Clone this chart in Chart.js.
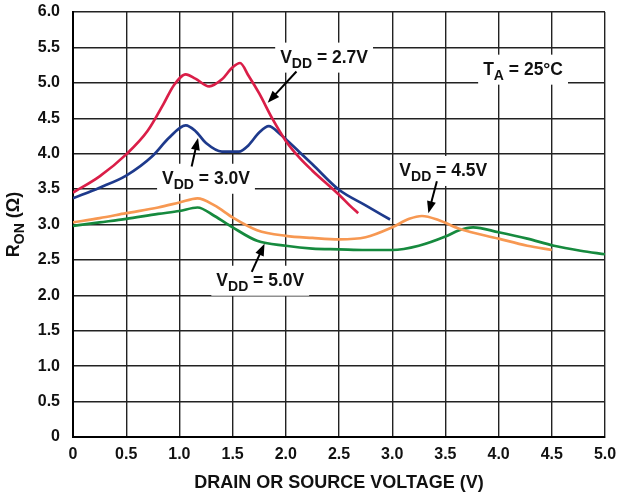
<!DOCTYPE html>
<html lang="en">
<head>
<meta charset="UTF-8">
<title>RON vs Drain or Source Voltage</title>
<script src="https://cdn.jsdelivr.net/npm/chart.js"></script>
<style>
    html, body { margin: 0; padding: 0; background: #fff; }
    .chart-container { position: relative; width: 621px; height: 498px; }
</style>
</head>
<body>
<div class="chart-container"><canvas id="ronChart"></canvas></div>
<script>
    // Values (x = volts, y = ohms)
    const vdd27X = [0, 0.25, 0.5, 0.7, 0.85, 0.95, 1.06, 1.15, 1.28, 1.4, 1.5, 1.57, 1.65, 1.75, 1.875, 2.0, 2.13, 2.25, 2.5, 2.6, 2.68];
    const vdd27Y = [3.45, 3.68, 3.99, 4.32, 4.70, 4.97, 5.12, 5.06, 4.95, 5.05, 5.22, 5.28, 5.10, 4.85, 4.49, 4.18, 3.94, 3.76, 3.42, 3.27, 3.16];

    const vdd30X = [0, 0.25, 0.5, 0.75, 0.9, 1.06, 1.15, 1.25, 1.4, 1.56, 1.65, 1.75, 1.84, 1.95, 2.13, 2.25, 2.5, 2.75, 2.98];
    const vdd30Y = [3.37, 3.52, 3.69, 3.97, 4.22, 4.40, 4.32, 4.15, 4.03, 4.03, 4.12, 4.30, 4.39, 4.27, 4.02, 3.85, 3.49, 3.27, 3.07];

    const vdd45X = [0, 0.25, 0.5, 0.8, 1.0, 1.17, 1.33, 1.5, 1.73, 2.0, 2.25, 2.5, 2.75, 3.0, 3.16, 3.28, 3.44, 3.63, 4.0, 4.27, 4.5];
    const vdd45Y = [3.03, 3.09, 3.16, 3.24, 3.31, 3.37, 3.27, 3.10, 2.92, 2.84, 2.81, 2.79, 2.82, 2.96, 3.08, 3.12, 3.06, 2.94, 2.80, 2.70, 2.64];

    const vdd50X = [0, 0.25, 0.5, 0.8, 1.0, 1.17, 1.33, 1.5, 1.73, 2.0, 2.25, 2.5, 2.75, 3.0, 3.25, 3.5, 3.63, 3.76, 4.0, 4.27, 4.52, 4.77, 5.0];
    const vdd50Y = [2.98, 3.03, 3.08, 3.15, 3.19, 3.24, 3.12, 2.96, 2.77, 2.70, 2.66, 2.65, 2.64, 2.64, 2.70, 2.83, 2.92, 2.96, 2.89, 2.80, 2.70, 2.63, 2.58];

    const xTickLabels = ['0', '0.5', '1.0', '1.5', '2.0', '2.5', '3.0', '3.5', '4.0', '4.5', '5.0'];
    const yTickLabels = ['0', '0.5', '1.0', '1.5', '2.0', '2.5', '3.0', '3.5', '4.0', '4.5', '5.0', '5.5', '6.0'];

    const FONT = "'Liberation Sans', Arial, sans-serif";

    function toPoints(xs, ys) {
        return xs.map((x, i) => ({ x: x, y: ys[i] }));
    }

    function lineSet(label, xs, ys, color) {
        return {
            label: label,
            data: toPoints(xs, ys),
            borderColor: color,
            borderWidth: 2.7,
            pointRadius: 0,
            fill: false,
            cubicInterpolationMode: 'monotone'
        };
    }

    // Curve labels, positioned in data units
    const notes = [
        { main: 'V', sub: 'DD', rest: ' = 2.7V', x: 2.36, y: 5.37, from: [2.10, 5.16], to: [1.83, 4.72] },
        { main: 'V', sub: 'DD', rest: ' = 3.0V', x: 1.25, y: 3.66, from: [1.115, 3.82], to: [1.175, 4.22] },
        { main: 'V', sub: 'DD', rest: ' = 4.5V', x: 3.48, y: 3.77, from: [3.42, 3.61], to: [3.34, 3.16] },
        { main: 'V', sub: 'DD', rest: ' = 5.0V', x: 1.76, y: 2.22, from: [1.68, 2.33], to: [1.80, 2.73] },
        { main: 'T', sub: 'A', rest: ' = 25°C', x: 4.23, y: 5.20 }
    ];

    function measureSub(ctx, n, big, small) {
        ctx.font = 'bold ' + big + 'px ' + FONT;
        const w1 = ctx.measureText(n.main).width;
        const w3 = ctx.measureText(n.rest).width;
        ctx.font = 'bold ' + small + 'px ' + FONT;
        const w2 = ctx.measureText(n.sub).width;
        return { w1, w2, w3, total: w1 + w2 + w3 };
    }

    function drawSub(ctx, n, cx, cy, big, small) {
        const m = measureSub(ctx, n, big, small);
        let x = cx - m.total / 2;
        ctx.fillStyle = '#111';
        ctx.textAlign = 'left';
        ctx.textBaseline = 'alphabetic';
        ctx.font = 'bold ' + big + 'px ' + FONT;
        ctx.fillText(n.main, x, cy + 6);
        x += m.w1;
        ctx.font = 'bold ' + small + 'px ' + FONT;
        ctx.fillText(n.sub, x, cy + 11);
        x += m.w2;
        ctx.font = 'bold ' + big + 'px ' + FONT;
        ctx.fillText(n.rest, x, cy + 6);
    }

    function drawArrow(ctx, x1, y1, x2, y2) {
        const ang = Math.atan2(y2 - y1, x2 - x1);
        const len = 12, half = 4.5;
        ctx.strokeStyle = '#000';
        ctx.fillStyle = '#000';
        ctx.lineWidth = 2;
        ctx.beginPath();
        ctx.moveTo(x1, y1);
        ctx.lineTo(x2 - Math.cos(ang) * len * 0.8, y2 - Math.sin(ang) * len * 0.8);
        ctx.stroke();
        ctx.beginPath();
        ctx.moveTo(x2, y2);
        ctx.lineTo(x2 - Math.cos(ang) * len + Math.sin(ang) * half, y2 - Math.sin(ang) * len - Math.cos(ang) * half);
        ctx.lineTo(x2 - Math.cos(ang) * len - Math.sin(ang) * half, y2 - Math.sin(ang) * len + Math.cos(ang) * half);
        ctx.closePath();
        ctx.fill();
    }

    const notesPlugin = {
        id: 'notes',
        beforeDatasetsDraw(chart) {
            const ctx = chart.ctx, xs = chart.scales.x, ys = chart.scales.y;
            ctx.save();
            notes.forEach(n => {
                const m = measureSub(ctx, n, 17.5, 14);
                const cx = xs.getPixelForValue(n.x), cy = ys.getPixelForValue(n.y);
                ctx.fillStyle = '#fff';
                ctx.fillRect(cx - m.total / 2 - 5, cy - 14, m.total + 10, 30);
            });
            ctx.restore();
        },
        afterDatasetsDraw(chart) {
            const ctx = chart.ctx, xs = chart.scales.x, ys = chart.scales.y;
            ctx.save();
            notes.forEach(n => {
                drawSub(ctx, n, xs.getPixelForValue(n.x), ys.getPixelForValue(n.y), 17.5, 14);
                if (n.from) {
                    drawArrow(ctx,
                        xs.getPixelForValue(n.from[0]), ys.getPixelForValue(n.from[1]),
                        xs.getPixelForValue(n.to[0]), ys.getPixelForValue(n.to[1]));
                }
            });
            // y axis title with subscript, rotated
            const area = chart.chartArea;
            ctx.translate(17, (area.top + area.bottom) / 2);
            ctx.rotate(-Math.PI / 2);
            drawSub(ctx, { main: 'R', sub: 'ON', rest: ' (Ω)' }, 0, -4, 18, 14);
            ctx.restore();
        }
    };

    const ctx = document.getElementById('ronChart').getContext('2d');
    const ronChart = new Chart(ctx, {
        type: 'line',
        data: {
            datasets: [
                lineSet('VDD = 2.7V', vdd27X, vdd27Y, 'rgb(218, 30, 72)'),
                lineSet('VDD = 3.0V', vdd30X, vdd30Y, 'rgb(30, 58, 140)'),
                lineSet('VDD = 4.5V', vdd45X, vdd45Y, 'rgb(247, 152, 82)'),
                lineSet('VDD = 5.0V', vdd50X, vdd50Y, 'rgb(22, 138, 62)')
            ]
        },
        options: {
            responsive: true,
            maintainAspectRatio: false,
            animation: false,
            layout: { padding: { left: 0, right: 16, top: 12, bottom: 0 } },
            plugins: {
                legend: { display: false },
                tooltip: { enabled: false }
            },
            scales: {
                x: {
                    type: 'linear',
                    min: 0,
                    max: 5,
                    afterFit: s => { s.height = 61; s.paddingRight = 0; s.paddingLeft = 0; },
                    afterBuildTicks: s => { s.ticks = xTickLabels.map((t, i) => ({ value: i * 0.5 })); },
                    ticks: {
                        color: '#111',
                        padding: 8,
                        maxRotation: 0,
                        font: { family: FONT, size: 16, weight: 'bold' },
                        callback: (v, i) => xTickLabels[i]
                    },
                    grid: { color: '#222', lineWidth: 1.4, drawTicks: false },
                    border: { color: '#000', width: 2 },
                    title: {
                        display: true,
                        text: 'DRAIN OR SOURCE VOLTAGE (V)',
                        color: '#111',
                        padding: { top: 2 },
                        font: { family: FONT, size: 18, weight: 'bold' }
                    }
                },
                y: {
                    min: 0,
                    max: 6,
                    afterFit: s => { s.width = 73; s.paddingTop = 0; s.paddingBottom = 0; },
                    afterBuildTicks: s => { s.ticks = yTickLabels.map((t, i) => ({ value: i * 0.5 })); },
                    ticks: {
                        color: '#111',
                        padding: 13,
                        font: { family: FONT, size: 16, weight: 'bold' },
                        callback: (v, i) => yTickLabels[i]
                    },
                    grid: { color: '#222', lineWidth: 1.4, drawTicks: false },
                    border: { color: '#000', width: 2 }
                }
            }
        },
        plugins: [notesPlugin]
    });
</script>
</body>
</html>
